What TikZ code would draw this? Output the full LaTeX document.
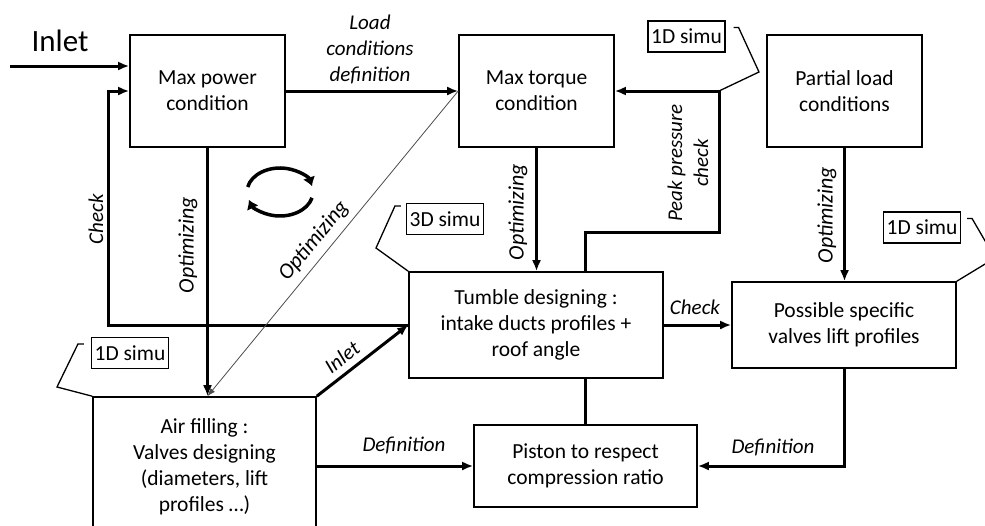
\documentclass[tikz,border=0pt]{standalone}
\usepackage{fontspec}
\setmainfont{Carlito}
\usetikzlibrary{arrows.meta,calc}
\tikzset{
  >={Latex[length=11pt,width=9pt]},
}
\tikzstyle{block}=[draw,line width=1.6pt,align=center,font=\fontsize{21.5}{26}\selectfont]
\tikzstyle{flow}=[line width=3pt,->]
\tikzstyle{thinflow}=[line width=0.8pt,gray!60!black,-{Latex[length=8pt,width=6pt]}]
\tikzstyle{tag}=[font=\fontsize{21}{26}\selectfont\itshape,align=center,inner sep=0pt]
\tikzstyle{opttag}=[tag,font=\fontsize{22}{26}\selectfont\itshape]
\tikzstyle{simu}=[draw,line width=1.3pt,inner sep=3pt,minimum height=31pt,font=\fontsize{21.5}{26}\selectfont]
\tikzstyle{simuline}=[line width=1.3pt]
\tikzstyle{cycle}=[line width=3.5pt,-{Latex[length=9pt,width=13pt]}]

\begin{document}
\begin{tikzpicture}[x=1pt,y=-1pt]
  \path[use as bounding box,clip] (0,0) rectangle (985,525);
  % blocks
  \node[block,minimum width=155pt,minimum height=112pt] (power) at (207.5,91) {Max power\\condition};
  \node[block,minimum width=155pt,minimum height=112pt] (torque) at (536.5,91) {Max torque\\condition};
  \node[block,minimum width=155pt,minimum height=112pt] (partial) at (844.5,91) {Partial load\\conditions};
  \node[block,minimum width=254pt,minimum height=106pt] (tumble) at (536,325) {Tumble designing :\\intake ducts profiles +\\roof angle};
  \node[block,minimum width=224pt,minimum height=86pt] (possible) at (844,325) {Possible specific\\valves lift profiles};
  \node[block,minimum width=223pt,minimum height=82pt] (piston) at (585.5,466) {Piston to respect\\compression ratio};
  \node[block,minimum width=223pt,minimum height=140pt] (air) at (204.5,467) {Air filling :\\Valves designing\\(diameters, lift\\profiles \dots)};
  % simulation tags
  \node[simu] (simA) at (686.5,36.5) {1D simu};
  \node[simu] (simB) at (445,219) {3D simu};
  \node[simu] (simC) at (130,353) {1D simu};
  \node[simu] (simD) at (922,227.5) {1D simu};
  \node[font=\fontsize{31}{36}\selectfont] (inlet) at (60,41) {Inlet};
  \coordinate (src) at (10,66);
  \coordinate (chk) at (108,91);
  \coordinate (pk) at (719,91);
  \coordinate (cyc) at (280,192);

  % connectors
  \draw[flow] (src) -- (src -| power.west);
  \draw[flow] (power.east) -- (torque.west);
  \draw[flow] (tumble.west) -| (chk) -- (power.west);
  \draw[flow] (power.south) -- (power.south |- air.north);
  \draw[thinflow] (torque.west) -- (power.south |- air.north);
  \draw[flow] (torque.south) -- (torque.south |- tumble.north);
  \draw[flow] (tumble.north -| piston.north) -- ++(0,-39) -| (pk) -- (torque.east);
  \draw[flow] (partial.south) -- (partial.south |- possible.north);
  \draw[flow] (air.north east) -- (tumble.west);
  \draw[flow] (tumble.east) -- (possible.west);
  \draw[flow] (air.east |- piston.west) -- (piston.west);
  \draw[flow] (possible.south) |- (piston.east);
  \draw[line width=3pt] (tumble.south -| piston.north) -- (piston.north);

  % callout lines
  \draw[simuline] (simA.east) ++(8,-9) -- ++(5,0) -- (759,72) -- (pk);
  \draw[simuline] (simB.west) ++(-5,-13) -- ++(-6,0) -- (376,248) -- (tumble.north west);
  \draw[simuline] (simC.west) ++(-7,-9) -- ++(-6,0) -- (57,387) -- (air.north west);
  \draw[simuline] (simD.east) ++(6,-9) -- ++(5,0) -- (995,258) -- (possible.north east);

  % iteration sign
  \draw[cycle] (cyc) ++(192:33 and 24) arc[start angle=192,end angle=346,x radius=33,y radius=24];
  \draw[cycle] (cyc) ++(14:33 and 24) arc[start angle=14,end angle=161,x radius=33,y radius=24];

  % labels
  \node[tag] (lcd) at (370,49) {Load\\conditions\\definition};
  \node[tag,rotate=90] (chkA) at (96,219) {Check};
  \node[opttag,rotate=90] (optA) at (188,245) {Optimizing};
  \node[opttag,rotate=50.6] (optB) at (314,241) {Optimizing};
  \node[opttag,rotate=90] (optC) at (518,212) {Optimizing};
  \node[tag,rotate=90] (ppc) at (688,163) {Peak pressure\\check};
  \node[opttag,rotate=90] (optD) at (827,215) {Optimizing};
  \node[tag,rotate=37.7] (inletB) at (342,357) {Inlet};
  \node[tag] (defA) at (404,445) {Definition};
  \node[tag] (chkB) at (695,307) {Check};
  \node[tag] (defB) at (773,447) {Definition};
\end{tikzpicture}
\end{document}
